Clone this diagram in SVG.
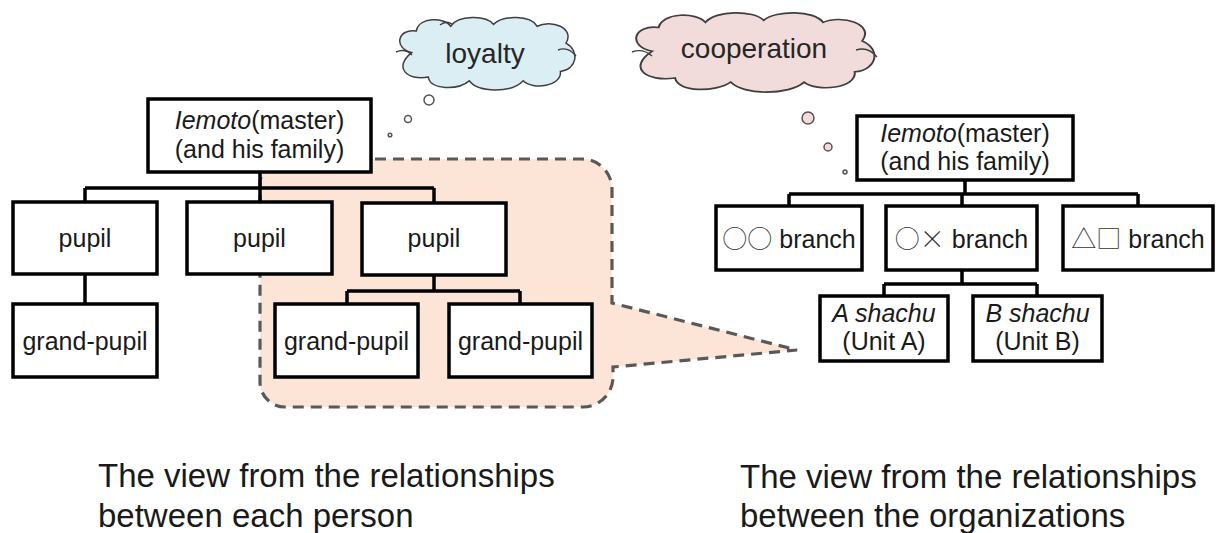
<svg xmlns="http://www.w3.org/2000/svg" width="1216" height="533" viewBox="0 0 1216 533">
<defs>
<style>
.box{fill:#ffffff;stroke:#000000;stroke-width:3.5}
.conn{fill:none;stroke:#000000;stroke-width:3.5}
.lbl{font-family:"Liberation Sans",Arial,sans-serif;font-size:25px;fill:#1a1a1a;text-anchor:middle}
.sym{font-family:"Noto Sans CJK JP",sans-serif;font-weight:300;fill:#333333}
.cap{font-family:"Liberation Sans",Arial,sans-serif;font-size:33px;fill:#1a1a1a}
.cloud{stroke:#3f3f3f;stroke-width:1.6}
.bub{stroke:#555555;stroke-width:1.5}
.cloudtxt{font-family:"Liberation Sans",Arial,sans-serif;font-size:28px;fill:#262626;text-anchor:middle}
</style>
<path id="cloudShape" d="M 20,40 C 0,35 5,14 25,17 C 28,2 55,2 62,12 C 70,0 100,0 108,10 C 118,0 148,0 155,12 C 170,4 196,14 186,30 C 201,38 198,58 180,60 C 182,76 150,80 140,70 C 128,83 92,83 82,70 C 70,80 40,80 38,66 C 15,70 0,56 20,40 Z"/>
</defs>
<rect width="1216" height="533" fill="#ffffff"/>

<!-- callout -->
<g id="callout">
<path d="M 285,159 H 582 A 30 30 0 0 1 612,189 V 303 L 797,350 L 613,367 V 377 A 30 30 0 0 1 583,407 H 285 A 25 25 0 0 1 260,382 V 184 A 25 25 0 0 1 285,159 Z" fill="#fce4d6" stroke="#595959" stroke-width="3.2" stroke-dasharray="11 7"/>
</g>

<!-- clouds -->
<g id="cloud-loyalty">
<use href="#cloudShape" class="cloud" fill="#daeef3" vector-effect="non-scaling-stroke" transform="translate(393,15) scale(0.93,0.94)"/>
<path d="M 396,52 Q 405,48 412,55 M 558,50 Q 568,46 576,56 M 440,25 Q 446,20 452,24" fill="none" stroke="#3f3f3f" stroke-width="1.4"/>
<text class="cloudtxt" x="485" y="63">loyalty</text>
<circle class="bub" cx="429" cy="100" r="5" fill="#ffffff"/>
<circle class="bub" cx="408" cy="119" r="3.5" fill="#ffffff"/>
<circle class="bub" cx="390" cy="135" r="1.8" fill="#ffffff"/>
</g>
<g id="cloud-cooperation">
<use href="#cloudShape" class="cloud" fill="#f2dcdb" vector-effect="non-scaling-stroke" transform="translate(627,10) scale(1.265,1.03)"/>
<path d="M 632,52 Q 643,48 652,56 M 856,50 Q 868,46 877,57" fill="none" stroke="#3f3f3f" stroke-width="1.4"/>
<text class="cloudtxt" x="754" y="58">cooperation</text>
<circle class="bub" cx="808" cy="118" r="6" fill="#f2dcdb"/>
<circle class="bub" cx="828" cy="147" r="4" fill="#f2dcdb"/>
<circle class="bub" cx="845" cy="172" r="2" fill="#f2dcdb"/>
</g>

<!-- connectors -->
<g id="connectors">
<path class="conn" d="M 260,172 V 188 M 85,188 H 434 M 85,188 V 202 M 260,188 V 202 M 434,188 V 203"/>
<path class="conn" d="M 85,274 V 304"/>
<path class="conn" d="M 434,275 V 291 M 347,291 H 520 M 347,291 V 304 M 520,291 V 304"/>
<path class="conn" d="M 965,180 V 194 M 789,194 H 1138 M 789,194 V 206 M 962,194 V 206 M 1138,194 V 206"/>
<path class="conn" d="M 962,270 V 284 M 884,284 H 1037 M 884,284 V 296 M 1037,284 V 296"/>
</g>

<!-- left tree -->
<g id="l-root">
<rect class="box" x="148" y="99" width="223" height="73"/>
<text class="lbl" x="259.5" y="129"><tspan font-style="italic">Iemoto</tspan>(master)</text>
<text class="lbl" x="259.5" y="158">(and his family)</text>
</g>
<g id="l-pupil1"><rect class="box" x="13" y="202" width="144" height="72"/><text class="lbl" x="85" y="247">pupil</text></g>
<g id="l-pupil2"><rect class="box" x="187" y="202" width="145" height="72"/><text class="lbl" x="259.5" y="247">pupil</text></g>
<g id="l-pupil3"><rect class="box" x="362" y="203" width="144" height="72"/><text class="lbl" x="434" y="247">pupil</text></g>
<g id="l-gp1"><rect class="box" x="13" y="304" width="144" height="73"/><text class="lbl" x="85" y="350">grand-pupil</text></g>
<g id="l-gp2"><rect class="box" x="275" y="304" width="143" height="73"/><text class="lbl" x="346.5" y="350">grand-pupil</text></g>
<g id="l-gp3"><rect class="box" x="449" y="304" width="143" height="73"/><text class="lbl" x="520.5" y="350">grand-pupil</text></g>

<!-- right tree -->
<g id="r-root">
<rect class="box" x="857" y="116" width="216" height="64"/>
<text class="lbl" x="965" y="142"><tspan font-style="italic">Iemoto</tspan>(master)</text>
<text class="lbl" x="965" y="170">(and his family)</text>
</g>
<g id="r-branch1"><rect class="box" x="716" y="206" width="146" height="64"/><text class="lbl" x="789" y="248"><tspan class="sym">○○</tspan> branch</text></g>
<g id="r-branch2"><rect class="box" x="886" y="206" width="151" height="64"/><text class="lbl" x="961.5" y="248"><tspan class="sym">○×</tspan> branch</text></g>
<g id="r-branch3"><rect class="box" x="1063" y="206" width="150" height="64"/><text class="lbl" x="1138" y="248"><tspan class="sym">△□</tspan> branch</text></g>
<g id="r-unitA">
<rect class="box" x="820" y="296" width="128" height="65"/>
<text class="lbl" x="884" y="322" font-style="italic">A shachu</text>
<text class="lbl" x="884" y="350">(Unit A)</text>
</g>
<g id="r-unitB">
<rect class="box" x="973" y="296" width="129" height="65"/>
<text class="lbl" x="1037.5" y="322" font-style="italic">B shachu</text>
<text class="lbl" x="1037.5" y="350">(Unit B)</text>
</g>

<!-- captions -->
<g id="captions">
<text class="cap" x="98" y="487">The view from the relationships</text>
<text class="cap" x="98" y="527">between each person</text>
<text class="cap" x="740" y="488">The view from the relationships</text>
<text class="cap" x="740" y="527">between the organizations</text>
</g>
</svg>
